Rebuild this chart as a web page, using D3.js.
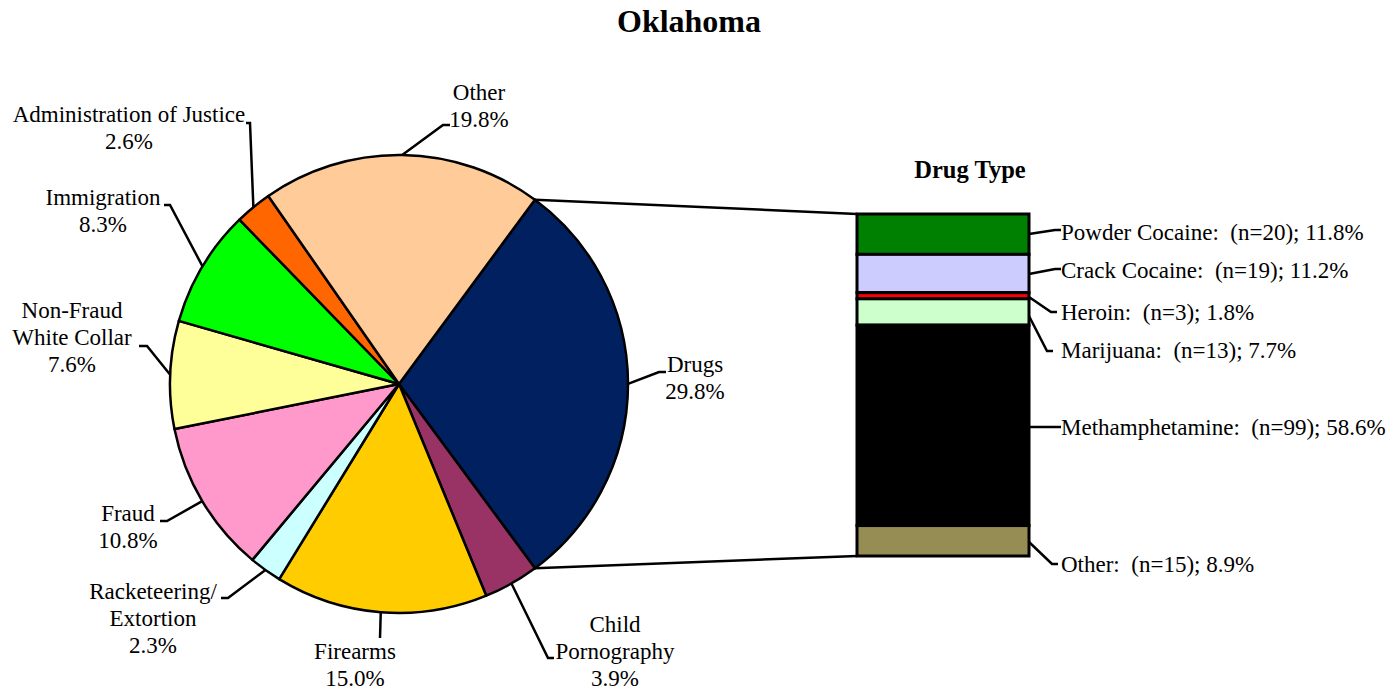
<!DOCTYPE html>
<html>
<head>
<meta charset="utf-8">
<script src="https://cdn.jsdelivr.net/npm/d3@7"></script>
<style>
  body { margin: 0; background: #fff; }
  text { font-family: "Liberation Serif", "Times New Roman", serif; fill: #000; }
</style>
</head>
<body>
<svg id="svg" width="1390" height="689"></svg>
<script>
// offense categories (clockwise from Drugs)
var categories = ["Drugs", "Child Pornography", "Firearms", "Racketeering/Extortion", "Fraud",
                  "Non-Fraud White Collar", "Immigration", "Administration of Justice", "Other"];
var percents = [29.8, 3.9, 15.0, 2.3, 10.8, 7.6, 8.3, 2.6, 19.8];
var labelLines = [["Drugs"], ["Child", "Pornography"], ["Firearms"], ["Racketeering/", "Extortion"], ["Fraud"],
                  ["Non-Fraud", "White Collar"], ["Immigration"], ["Administration of Justice"], ["Other"]];
var colors = ["#002060", "#993366", "#FFCC00", "#CCFFFF", "#FF99CC", "#FFFF99", "#00FF00", "#FF6600", "#FFCC99"];

// drug type breakdown
var drugTypes = ["Powder Cocaine", "Crack Cocaine", "Heroin", "Marijuana", "Methamphetamine", "Other"];
var drugCounts = [20, 19, 3, 13, 99, 15];
var drugPercents = [11.8, 11.2, 1.8, 7.7, 58.6, 8.9];
var drugColors = ["#008000", "#CCCCFF", "#FF0000", "#CCFFCC", "#000000", "#968D55"];

var svg = d3.select("#svg");

var cx = 399, cy = 384, r = 229;
var fs = 23;

// label layout: elbow point, end of short tick, text anchor point
var pieLayout = [
  { elbow: [659, 372], end: [666, 372], tx: 695, ty: 372 },
  { elbow: [548, 658], end: [554, 658], tx: 615, ty: 632 },
  { elbow: [380, 638], end: [380, 638], tx: 355, ty: 659 },
  { elbow: [228, 598], end: [221, 598], tx: 153, ty: 599 },
  { elbow: [167, 521], end: [160, 521], tx: 128, ty: 521 },
  { elbow: [147, 346], end: [139, 346], tx: 72, ty: 318 },
  { elbow: [170, 205], end: [164, 205], tx: 103, ty: 205 },
  { elbow: [250, 123], end: [246, 123], tx: 129, ty: 122 },
  { elbow: [443, 125], end: [450, 125], tx: 479, ty: 100 }
];

svg.append("text")
    .attr("x", 689).attr("y", 32)
    .attr("text-anchor", "middle")
    .attr("font-weight", "bold")
    .attr("font-size", 32)
    .text("Oklahoma");

var pie = d3.pie()
    .sort(null)
    .startAngle(36.4 * Math.PI / 180)
    .endAngle((36.4 + 360) * Math.PI / 180);

var arcs = pie(percents);
var arc = d3.arc().innerRadius(0).outerRadius(r);

var g = svg.append("g").attr("transform", "translate(" + cx + "," + cy + ")");

g.selectAll("path.slice")
  .data(arcs)
  .enter().append("path")
    .attr("class", "slice")
    .attr("d", arc)
    .attr("fill", function(d, i) { return colors[i]; })
    .attr("stroke", "#000")
    .attr("stroke-width", 2.5)
    .attr("stroke-linejoin", "round");

function edgePoint(a, rad) {
  return [cx + rad * Math.sin(a), cy - rad * Math.cos(a)];
}

// leader lines + labels
arcs.forEach(function(d, i) {
  var mid = (d.startAngle + d.endAngle) / 2;
  var p0 = edgePoint(mid, r);
  var L = pieLayout[i];
  svg.append("polyline")
      .attr("points", [p0, L.elbow, L.end].map(function(p) { return p.join(","); }).join(" "))
      .attr("fill", "none")
      .attr("stroke", "#000")
      .attr("stroke-width", 2.5);
  var lines = labelLines[i].concat([percents[i].toFixed(1) + "%"]);
  var t = svg.append("text")
      .attr("text-anchor", "middle")
      .attr("font-size", fs);
  lines.forEach(function(s, j) {
    t.append("tspan").attr("x", L.tx).attr("y", L.ty + j * 27).text(s);
  });
});

// stacked drug bar
var bx = 857, bw = 172;
var y = d3.scaleLinear().range([214, 556]);

var cum = 0;
var stacks = drugPercents.map(function(v) { var s = { y0: cum, y1: cum + v }; cum += v; return s; });
var total = cum;
y.domain([0, total]);

svg.append("g").selectAll("rect")
  .data(stacks)
  .enter().append("rect")
    .attr("x", bx)
    .attr("y", function(d) { return y(d.y0); })
    .attr("width", bw)
    .attr("height", function(d) { return y(d.y1) - y(d.y0); })
    .attr("fill", function(d, i) { return drugColors[i]; })
    .attr("stroke", "#000")
    .attr("stroke-width", 3);

svg.append("text")
    .attr("x", 970).attr("y", 178)
    .attr("text-anchor", "middle")
    .attr("font-weight", "bold")
    .attr("font-size", 24.5)
    .text("Drug Type");

// connectors from pie to bar
var drugArc = arcs[0];
var pA = edgePoint(drugArc.startAngle, r), pB = edgePoint(drugArc.endAngle, r);
svg.append("line").attr("x1", pA[0]).attr("y1", pA[1]).attr("x2", bx).attr("y2", y(0))
    .attr("stroke", "#000").attr("stroke-width", 2.5);
svg.append("line").attr("x1", pB[0]).attr("y1", pB[1]).attr("x2", bx).attr("y2", y(total))
    .attr("stroke", "#000").attr("stroke-width", 2.5);

// drug labels: elbow point and text baseline
var drugLayout = [
  { elbow: [1055, 230], ty: 240 },
  { elbow: [1055, 269], ty: 278 },
  { elbow: [1051, 312], ty: 320 },
  { elbow: [1047, 351], ty: 358 },
  { elbow: [1055, 427], ty: 435 },
  { elbow: [1052, 564], ty: 572 }
];
var anchorYs = [234, 274, 297, 316, 427, 542];

stacks.forEach(function(s, i) {
  var L = drugLayout[i];
  var ax = bx + bw;
  var ay = anchorYs[i];
  svg.append("polyline")
      .attr("points", [[ax, ay], L.elbow, [L.elbow[0] + 6, L.elbow[1]]].map(function(p) { return p.join(","); }).join(" "))
      .attr("fill", "none")
      .attr("stroke", "#000")
      .attr("stroke-width", 2.5);
  svg.append("text")
      .attr("x", 1061).attr("y", L.ty)
      .attr("font-size", fs)
      .style("white-space", "pre")
      .text(drugTypes[i] + ":  (n=" + drugCounts[i] + "); " + drugPercents[i].toFixed(1) + "%");
});
</script>
</body>
</html>
